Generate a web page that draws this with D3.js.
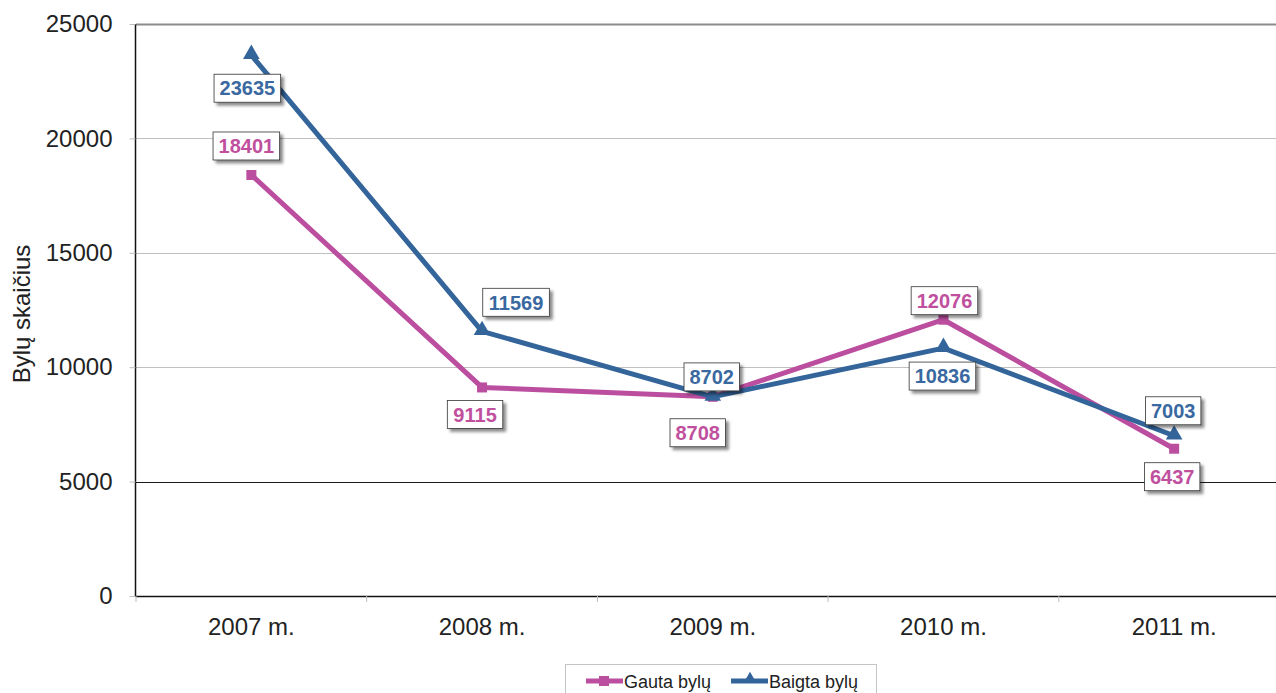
<!DOCTYPE html>
<html>
<head>
<meta charset="utf-8">
<script src="https://cdn.jsdelivr.net/npm/d3@7"></script>
<style>
  html, body { margin: 0; padding: 0; background: #fff; }
  svg { display: block; font-family: "Liberation Sans", Arial, sans-serif; }
</style>
</head>
<body>
<svg id="chart" width="1276" height="693"></svg>
<script>
const categories = ["2007 m.", "2008 m.", "2009 m.", "2010 m.", "2011 m."];
const gauta = [18401, 9115, 8708, 12076, 6437];
const baigta = [23635, 11569, 8702, 10836, 7003];
const seriesNames = ["Gauta bylų", "Baigta bylų"];
const yTicks = [0, 5000, 10000, 15000, 20000, 25000];
const yTitle = "Bylų skaičius";

// layout-only: label offsets relative to each point (px)
const gautaLabelOffset = [[-5, -29], [-7, 27], [-15, 36], [1, -19], [-2, 28]];
const baigtaLabelOffset = [[-4, 33], [34, -29], [-1, -20], [-1, 28], [-1, -25]];

const colors = { gauta: "#BC4E9F", baigta: "#33649A" };
const textColors = { gauta: "#C0509E", baigta: "#3A68A0" };

const svg = d3.select("#chart");
const mLeft = 136, mTop = 24, mBottom = 596;
const band = 230.7;
const FONT = "Liberation Sans, Arial, sans-serif";

const x = d3.scaleBand().domain(categories).range([mLeft, mLeft + band * categories.length]).padding(0);
const y = d3.scaleLinear().domain([0, 25000]).range([mBottom, mTop]);

const defs = svg.append("defs");
const f = defs.append("filter").attr("id", "shadow").attr("x", "-20%").attr("y", "-30%").attr("width", "150%").attr("height", "170%");
f.append("feDropShadow").attr("dx", 3).attr("dy", 3).attr("stdDeviation", 1.8).attr("flood-color", "#000").attr("flood-opacity", 0.45);

// gridlines
svg.append("g").selectAll("line").data(yTicks.filter(d => d > 0)).join("line")
  .attr("x1", mLeft).attr("x2", 1276)
  .attr("y1", d => Math.round(y(d)) + 0.5).attr("y2", d => Math.round(y(d)) + 0.5)
  .attr("stroke", d => d === 25000 ? "#8c8c8c" : (d === 5000 ? "#1a1a1a" : "#c0c0c0"))
  .attr("stroke-width", d => d === 25000 ? 2 : 1);

// y axis
const yAxis = d3.axisLeft(y).tickValues(yTicks).tickSize(6).tickPadding(17).tickFormat(d3.format("d"));
const gy = svg.append("g").attr("transform", `translate(${mLeft - 0.5},0)`).call(yAxis);
gy.select(".domain").attr("stroke", "#111").attr("stroke-width", 1.5).attr("d", `M0,${mTop}V${mBottom}`);
gy.selectAll(".tick line").attr("stroke", "#bdbdbd");
gy.selectAll(".tick text").attr("font-size", 24).attr("fill", "#222").attr("font-family", FONT);

// x axis
const xAxis = d3.axisBottom(x).tickSize(0).tickPadding(21);
const gx = svg.append("g").attr("transform", `translate(0,${mBottom + 0.5})`).call(xAxis);
gx.select(".domain").attr("stroke", "#111").attr("stroke-width", 1.5).attr("d", `M${mLeft - 0.5},0H1276`);
gx.selectAll(".tick text").attr("font-size", 24).attr("fill", "#222").attr("font-family", FONT);
// boundary tick marks
svg.append("g").selectAll("line").data(d3.range(categories.length + 1)).join("line")
  .attr("x1", i => mLeft + band * i).attr("x2", i => mLeft + band * i)
  .attr("y1", mBottom).attr("y2", mBottom + 6)
  .attr("stroke", "#bdbdbd");

// y title
svg.append("text").attr("transform", "translate(30,314) rotate(-90)")
  .attr("text-anchor", "middle").attr("font-size", 24).attr("fill", "#222").text(yTitle);

const cx = d => x(d) + x.bandwidth() / 2;
const line = d3.line().x(d => cx(d.c)).y(d => y(d.v));

const gautaData = categories.map((c, i) => ({ c, v: gauta[i], off: gautaLabelOffset[i] }));
const baigtaData = categories.map((c, i) => ({ c, v: baigta[i], off: baigtaLabelOffset[i] }));

// lines
svg.append("path").datum(gautaData).attr("d", line).attr("fill", "none")
  .attr("stroke", colors.gauta).attr("stroke-width", 5).attr("stroke-linejoin", "round");
svg.append("g").selectAll("rect").data(gautaData).join("rect")
  .attr("x", d => cx(d.c) - 5).attr("y", d => y(d.v) - 5).attr("width", 10).attr("height", 10)
  .attr("fill", colors.gauta);

svg.append("path").datum(baigtaData).attr("d", line).attr("fill", "none")
  .attr("stroke", colors.baigta).attr("stroke-width", 5).attr("stroke-linejoin", "round");
const tri = d3.symbol().type(d3.symbolTriangle).size(120);
svg.append("g").selectAll("path").data(baigtaData).join("path")
  .attr("transform", d => `translate(${cx(d.c)},${y(d.v) - 1})`).attr("d", tri)
  .attr("fill", colors.baigta);

// data labels
function labels(data, color) {
  const g = svg.append("g").selectAll("g").data(data).join("g")
    .attr("transform", d => `translate(${cx(d.c) + d.off[0]},${y(d.v) + d.off[1]})`);
  g.each(function (d) {
    const gg = d3.select(this);
    const txt = String(d.v);
    const w = txt.length * 11.12 + 11;
    gg.append("rect").attr("x", -w / 2).attr("y", -14).attr("width", w).attr("height", 28)
      .attr("fill", "#fff").attr("stroke", "#333").attr("stroke-width", 0.8)
      .attr("filter", "url(#shadow)");
    gg.append("text").attr("text-anchor", "middle").attr("dy", "0.36em")
      .attr("font-size", 20).attr("font-weight", "bold").attr("fill", color).text(txt);
  });
}
labels(gautaData, textColors.gauta);
labels(baigtaData, textColors.baigta);

// legend
const lg = svg.append("g");
lg.append("rect").attr("x", 565.5).attr("y", 664.5).attr("width", 311).attr("height", 40)
  .attr("fill", "#fff").attr("stroke", "#c4c4c4");
const items = [
  { name: seriesNames[0], color: colors.gauta, x: 586, marker: "sq" },
  { name: seriesNames[1], color: colors.baigta, x: 731, marker: "tri" }
];
items.forEach(it => {
  lg.append("line").attr("x1", it.x).attr("x2", it.x + 37).attr("y1", 681).attr("y2", 681)
    .attr("stroke", it.color).attr("stroke-width", 5);
  if (it.marker === "sq") {
    lg.append("rect").attr("x", it.x + 13).attr("y", 676).attr("width", 10).attr("height", 10).attr("fill", it.color);
  } else {
    lg.append("path").attr("transform", `translate(${it.x + 19},679)`)
      .attr("d", d3.symbol().type(d3.symbolTriangle).size(70)).attr("fill", it.color);
  }
  lg.append("text").attr("x", it.x + 38).attr("y", 688).attr("font-size", 18).attr("fill", "#222").text(it.name);
});
</script>
</body>
</html>
